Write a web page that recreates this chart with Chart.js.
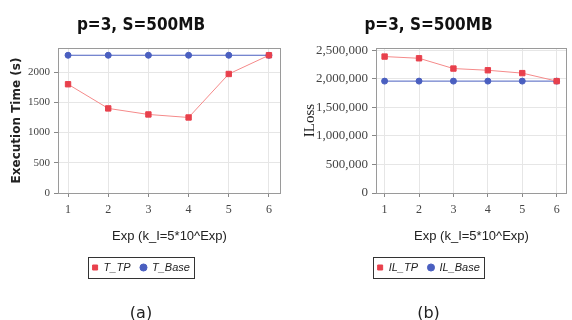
<!DOCTYPE html>
<html>
<head>
<meta charset="utf-8">
<script src="https://cdn.jsdelivr.net/npm/chart.js@4.4.1/dist/chart.umd.min.js"></script>
<style>
  html, body { margin: 0; padding: 0; background: #fff; }
  #wrap { position: relative; width: 572px; height: 320px; }
  canvas { position: absolute; top: 0; }
  #chartA { left: 0; }
  #chartB { left: 286px; }
</style>
</head>
<body>
<div id="wrap">
  <canvas id="chartA" width="286" height="320"></canvas>
  <canvas id="chartB" width="286" height="320"></canvas>
</div>
<script>
const exps = [1, 2, 3, 4, 5, 6];
const timeTP = [1800, 1400, 1300, 1250, 1970, 2280];
const timeBase = [2280, 2280, 2280, 2280, 2280, 2280];
const lossTP = [2390000, 2360000, 2180000, 2150000, 2100000, 1960000];
const lossBase = [1960000, 1960000, 1960000, 1960000, 1960000, 1960000];
const timeTicks = [0, 500, 1000, 1500, 2000];
const lossTicks = [0, 500000, 1000000, 1500000, 2000000, 2500000];

const RED = '#e8404c';
const RED_LINE = '#f58a8a';
const BLUE = '#4a5fc0';

// grey frame round the plot and a box round the legend
const framePlugin = {
  id: 'frame',
  beforeDatasetsDraw(chart) {
    const { ctx, chartArea: a } = chart;
    ctx.save();
    ctx.strokeStyle = '#9a9a9a';
    ctx.lineWidth = 1;
    ctx.strokeRect(Math.round(a.left) + 0.5, Math.round(a.top) + 0.5,
      Math.round(a.right - a.left) - 1, Math.round(a.bottom - a.top));
    ctx.restore();
  },
  afterDraw(chart) {
    const boxes = chart.legend && chart.legend.legendHitBoxes;
    if (!boxes || !boxes.length) return;
    const left = Math.min(...boxes.map(b => b.left)) - 4;
    const right = Math.max(...boxes.map(b => b.left + b.width)) + 4;
    const top = Math.min(...boxes.map(b => b.top)) - 5;
    const bottom = Math.max(...boxes.map(b => b.top + b.height)) + 5;
    const ctx = chart.ctx;
    ctx.save();
    ctx.strokeStyle = '#333';
    ctx.lineWidth = 1;
    ctx.strokeRect(Math.round(left) + 0.5, Math.round(top) + 0.5, Math.round(right - left), Math.round(bottom - top));
    ctx.restore();
  }
};

function buildChart(id, opts) {
  return new Chart(document.getElementById(id), {
    type: 'line',
    data: {
      datasets: [
        {
          label: opts.labels[0],
          data: exps.map((x, i) => ({ x, y: opts.tp[i] })),
          borderColor: RED_LINE,
          backgroundColor: RED,
          borderWidth: 1,
          pointStyle: 'rect',
          pointRadius: 3.8,
          pointBorderColor: RED,
        },
        {
          label: opts.labels[1],
          data: exps.map((x, i) => ({ x, y: opts.base[i] })),
          borderColor: BLUE,
          backgroundColor: BLUE,
          borderWidth: 1,
          pointStyle: 'circle',
          pointRadius: 3,
        },
      ],
    },
    options: {
      responsive: false,
      animation: false,
      layout: { padding: { left: 0, right: opts.padRight, top: 0, bottom: 0 } },
      plugins: {
        title: {
          display: true,
          text: 'p=3, S=500MB',
          color: '#111',
          font: { family: 'DejaVu Sans Condensed', weight: 'bold', size: 17, lineHeight: 1.2 },
          padding: { top: 15, bottom: 12.6 },
        },
        subtitle: {
          display: true,
          position: 'bottom',
          text: opts.caption,
          color: '#222',
          font: { family: 'DejaVu Sans', size: 16, lineHeight: 0.75 },
          padding: { top: 25, bottom: 0 },
        },
        legend: {
          position: 'bottom',
          labels: {
            usePointStyle: true,
            boxWidth: 6,
            boxHeight: 5,
            padding: 10,
            color: '#222',
            font: { family: 'Liberation Sans', style: 'italic', size: 11 },
          },
        },
        tooltip: { enabled: false },
      },
      scales: {
        x: {
          type: 'linear',
          min: 0.75,
          max: 6.3,
          afterBuildTicks(s) { s.ticks = exps.map(v => ({ value: v })); },
          afterFit(s) { s.height = 59; },
          grid: { color: '#e6e6e6', tickLength: 4, tickColor: '#888' },
          border: { display: false },
          ticks: {
            padding: 6,
            color: '#444',
            font: { family: 'Liberation Serif', size: 12 },
          },
          title: {
            display: true,
            text: 'Exp (k_I=5*10^Exp)',
            color: '#222',
            font: { family: 'Liberation Sans', size: 13, lineHeight: 1.2 },
            padding: { top: 0, bottom: 8 },
          },
        },
        y: {
          min: 0,
          max: opts.yMax,
          afterBuildTicks(s) { s.ticks = opts.ticks.map(v => ({ value: v })); },
          afterFit(s) { s.width = opts.yWidth; },
          grid: { color: '#e6e6e6', tickLength: 4, tickColor: '#888' },
          border: { display: false },
          ticks: {
            padding: 4,
            color: '#444',
            font: { family: 'Liberation Serif', size: opts.tickSize },
            callback: opts.format,
          },
          title: {
            display: true,
            text: opts.yTitle,
            color: '#222',
            font: opts.yTitleFont,
            padding: { top: opts.yTitlePad, bottom: 0 },
          },
        },
      },
    },
    plugins: [framePlugin],
  });
}

buildChart('chartA', {
  labels: ['T_TP', 'T_Base'],
  tp: timeTP,
  base: timeBase,
  ticks: timeTicks,
  yMax: 2400,
  yWidth: 58,
  padRight: 4,
  tickSize: 11,
  format: v => String(v),
  yTitle: 'Execution Time (s)',
  yTitleFont: { family: 'DejaVu Sans', weight: 'bold', size: 12, lineHeight: 1.2 },
  yTitlePad: 10,
  caption: '(a)',
});

buildChart('chartB', {
  labels: ['IL_TP', 'IL_Base'],
  tp: lossTP,
  base: lossBase,
  ticks: lossTicks,
  yMax: 2540000,
  yWidth: 90,
  padRight: 1,
  tickSize: 13,
  format: v => Number(v).toLocaleString('en-US'),
  yTitle: 'ILoss',
  yTitleFont: { family: 'Liberation Serif', size: 15, lineHeight: 1.2 },
  yTitlePad: 15,
  caption: '(b)',
});
</script>
</body>
</html>
